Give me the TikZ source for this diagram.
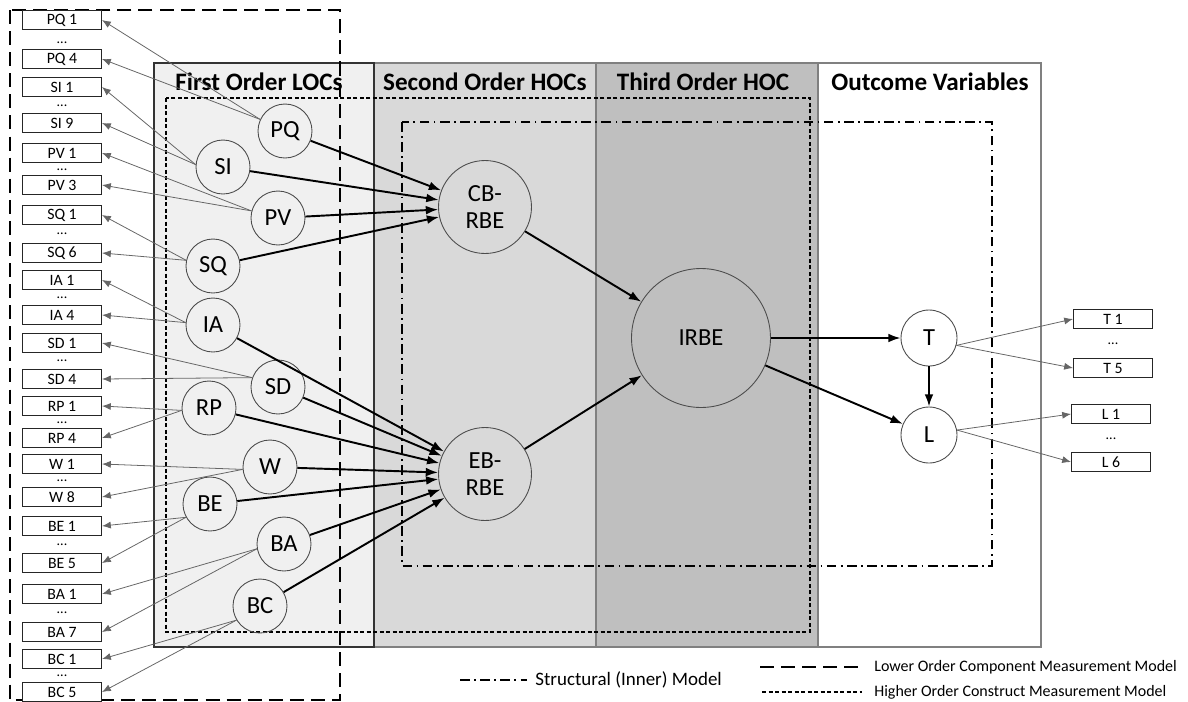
\documentclass[tikz,border=0pt]{standalone}
\usepackage{fontspec}
\setmainfont{Carlito}
\usepackage{tikz}
\usetikzlibrary{arrows.meta}

\definecolor{locfill}{gray}{0.94}
\definecolor{hocfill}{gray}{0.85}
\definecolor{topfill}{gray}{0.75}

\tikzset{
  lv/.style={circle,draw=black!70,line width=0.5pt,inner sep=0pt,
             minimum size=1.08cm,font=\fontsize{14}{15}\selectfont},
  hoc/.style={lv,minimum size=1.86cm,align=center},
  item/.style={draw=black!85,fill=white,line width=0.6pt,inner sep=0pt,
               minimum width=1.58cm,minimum height=0.38cm,font=\fontsize{9}{10}\selectfont},
  more/.style={inner sep=0pt,font=\fontsize{8}{9}\selectfont},
  head/.style={font=\fontsize{14.3}{16}\selectfont\bfseries},
  legend/.style={anchor=west,inner sep=0pt,font=\fontsize{9.1}{11}\selectfont},
  load/.style={-{Latex[length=5pt,width=4pt]},black!60,line width=0.45pt},
  strc/.style={-{Latex[length=7pt,width=5pt]},line width=1.1pt},
  locline/.style={dash pattern=on 8pt off 4pt,line width=1.1pt},
  hocline/.style={dash pattern=on 2.4pt off 1.3pt,line width=0.9pt},
  innerline/.style={dash pattern=on 5.5pt off 2.5pt on 1pt off 2.5pt,line width=0.8pt}
}

\begin{document}
\begin{tikzpicture}[x=0.02cm,y=-0.02cm]
  \useasboundingbox (0,0) rectangle (1188,701);

  % panels
  \fill[locfill] (154,63) rectangle (374,647);
  \fill[hocfill] (374,63) rectangle (596,647);
  \fill[topfill] (596,63) rectangle (818,647);
  \draw[black!50,line width=0.6pt] (374,63) rectangle (596,647);
  \draw[black!50,line width=0.6pt] (596,63) rectangle (818,647);
  \draw[black!50,line width=0.8pt] (818,63) rectangle (1041,647);
  \draw[black!80,line width=1.1pt] (154,63) rectangle (374,647);

  \node[head] (h1) at (259,82) {First Order LOCs};
  \node[head] (h2) at (485,82) {Second Order HOCs};
  \node[head] (h3) at (703,82) {Third Order HOC};
  \node[head] (h4) at (930,82) {Outcome Variables};

  % measurement model frames
  \draw[hocline] (166,98) rectangle (810,632);
  \draw[innerline] (402,122) rectangle (992,566);
  \draw[locline] (10,10) rectangle (340,700);

  % indicators
  \node[item] (pq1) at (62,20) {PQ 1};
  \node[more] (m1) at (62,43) {...};
  \node[item] (pq4) at (62,59) {PQ 4};
  \node[item] (si1) at (62,87) {SI 1};
  \node[more] (m2) at (62,106) {...};
  \node[item] (si9) at (62,123) {SI 9};
  \node[item] (pv1) at (62,153) {PV 1};
  \node[more] (m3) at (62,170) {...};
  \node[item] (pv3) at (62,185) {PV 3};
  \node[item] (sq1) at (62,215) {SQ 1};
  \node[more] (m4) at (62,234) {...};
  \node[item] (sq6) at (62,253) {SQ 6};
  \node[item] (ia1) at (62,280) {IA 1};
  \node[more] (m5) at (62,298) {...};
  \node[item] (ia4) at (62,315) {IA 4};
  \node[item] (sd1) at (62,343) {SD 1};
  \node[more] (m6) at (62,361) {...};
  \node[item] (sd4) at (62,379) {SD 4};
  \node[item] (rp1) at (62,406) {RP 1};
  \node[more] (m7) at (62,423) {...};
  \node[item] (rp4) at (62,438) {RP 4};
  \node[item] (w1) at (62,464) {W 1};
  \node[more] (m8) at (62,481) {...};
  \node[item] (w8) at (62,497) {W 8};
  \node[item] (be1) at (62,526) {BE 1};
  \node[more] (m9) at (62,545) {...};
  \node[item] (be5) at (62,563) {BE 5};
  \node[item] (ba1) at (62,594) {BA 1};
  \node[more] (m10) at (62,613) {...};
  \node[item] (ba7) at (62,632) {BA 7};
  \node[item] (bc1) at (62,659) {BC 1};
  \node[more] (m11) at (62,676) {...};
  \node[item] (bc5) at (62,692) {BC 5};

  \node[item] (t1) at (1113,319) {T 1};
  \node[more] (m12) at (1113,344) {...};
  \node[item] (t5) at (1113,368) {T 5};
  \node[item] (l1) at (1111,414) {L 1};
  \node[more] (m13) at (1111,439) {...};
  \node[item] (l6) at (1111,462) {L 6};

  % latent variables
  \node[lv] (pq) at (285,131) {PQ};
  \node[lv] (si) at (223,167) {SI};
  \node[lv] (pv) at (278,218) {PV};
  \node[lv] (sq) at (213,266) {SQ};
  \node[lv] (ia) at (213,325) {IA};
  \node[lv] (sd) at (278,387) {SD};
  \node[lv] (rp) at (209,408) {RP};
  \node[lv] (w) at (270,467) {W};
  \node[lv] (be) at (210,504) {BE};
  \node[lv] (ba) at (284,544) {BA};
  \node[lv] (bc) at (260,606) {BC};
  \node[hoc] (cb) at (485,207) {CB-\\RBE};
  \node[hoc] (eb) at (485,474) {EB-\\RBE};
  \node[lv,minimum size=2.78cm] (irbe) at (701,338) {IRBE};
  \node[lv,minimum size=1.12cm,fill=white] (t) at (929,338) {T};
  \node[lv,minimum size=1.12cm,fill=white] (l) at (929,435) {L};

  % loadings
  \draw[load] (pq.155) -- (pq1.east);
  \draw[load] (pq.155) -- (pq4.east);
  \draw[load] (si.175) -- (si1.east);
  \draw[load] (si.175) -- (si9.east);
  \draw[load] (pv.165) -- (pv1.east);
  \draw[load] (pv.165) -- (pv3.east);
  \draw[load] (sq.168) -- (sq1.east);
  \draw[load] (sq.168) -- (sq6.east);
  \draw[load] (ia.175) -- (ia1.east);
  \draw[load] (ia.175) -- (ia4.east);
  \draw[load] (sd.160) -- (sd1.east);
  \draw[load] (sd.160) -- (sd4.east);
  \draw[load] (rp.185) -- (rp1.east);
  \draw[load] (rp.185) -- (rp4.east);
  \draw[load] (w.185) -- (w1.east);
  \draw[load] (w.185) -- (w8.east);
  \draw[load] (be.209) -- (be1.east);
  \draw[load] (be.209) -- (be5.east);
  \draw[load] (ba.190) -- (ba1.east);
  \draw[load] (ba.190) -- (ba7.east);
  \draw[load] (bc.211) -- (bc1.east);
  \draw[load] (bc.211) -- (bc5.east);
  \draw[load] (t.345) -- (t1.west);
  \draw[load] (t.345) -- (t5.west);
  \draw[load] (l.10) -- (l1.west);
  \draw[load] (l.10) -- (l6.west);

  % structural paths
  \draw[strc] (pq) -- (cb);
  \draw[strc] (si) -- (cb);
  \draw[strc] (pv) -- (cb);
  \draw[strc] (sq) -- (cb);
  \draw[strc] (ia) -- (eb);
  \draw[strc] (sd) -- (eb);
  \draw[strc] (rp) -- (eb);
  \draw[strc] (w) -- (eb);
  \draw[strc] (be) -- (eb);
  \draw[strc] (ba) -- (eb);
  \draw[strc] (bc) -- (eb);
  \draw[strc] (cb) -- (irbe);
  \draw[strc] (eb) -- (irbe);
  \draw[strc] (irbe) -- (t);
  \draw[strc] (irbe) -- (l);
  \draw[strc] (t) -- (l);

  % legend
  \draw[innerline] (460,680) -- (527,680);
  \node[legend,font=\fontsize{10.8}{12}\selectfont] (lgs) at (535,680) {Structural (Inner) Model};
  \draw[locline] (760,667) -- (862,667);
  \node[legend] (lgl) at (874,667) {Lower Order Component Measurement Model};
  \draw[hocline] (762,692) -- (862,692);
  \node[legend] (lgh) at (874,692) {Higher Order Construct Measurement Model};
\end{tikzpicture}
\end{document}
